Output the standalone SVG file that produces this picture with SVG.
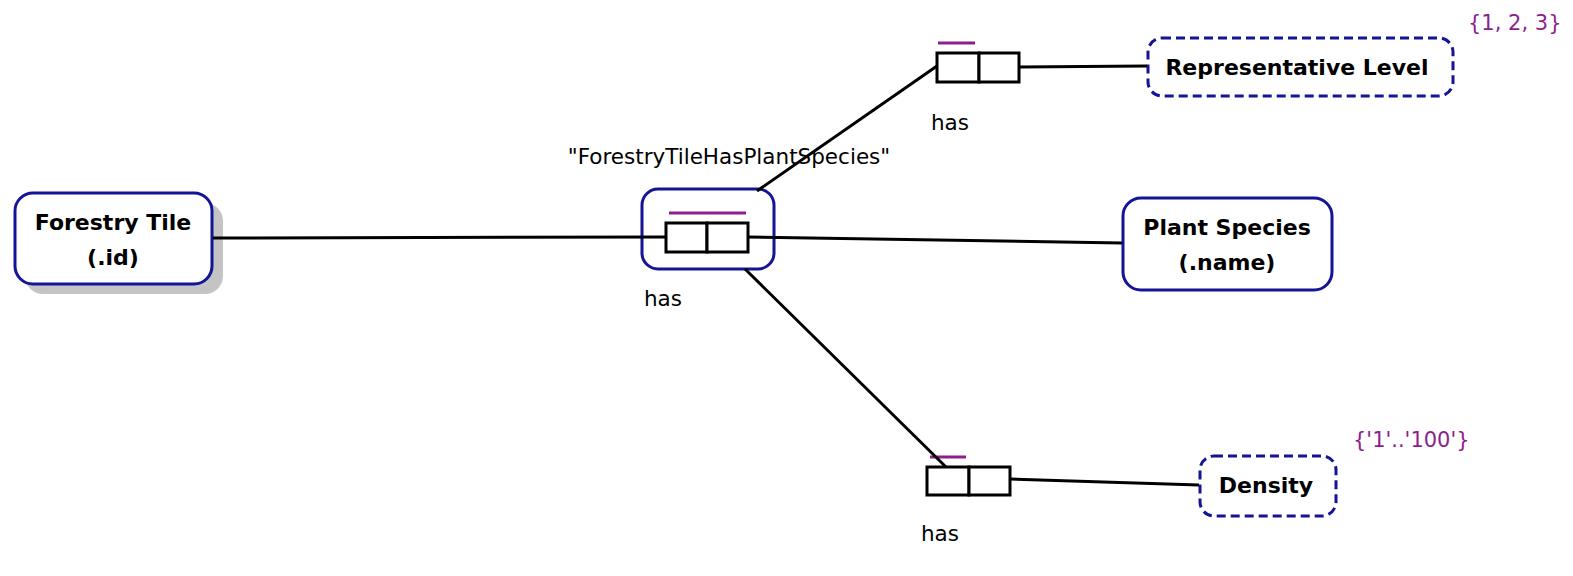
<svg xmlns="http://www.w3.org/2000/svg" width="1573" height="576" viewBox="0 0 1573 576">
<style>
.ent{fill:#fff;stroke:#141496;stroke-width:3}
.val{fill:#fff;stroke:#141496;stroke-width:3;stroke-dasharray:9 5}
.role{fill:#fff;stroke:#000;stroke-width:3}
.uc{stroke:#8e1e8e;stroke-width:3}
.ln{stroke:#000;stroke-width:3;fill:none}
.bt{font-family:"DejaVu Sans",Verdana,sans-serif;font-weight:bold;font-size:22px;fill:#000;text-anchor:middle}
.nt{font-family:"DejaVu Sans",Verdana,sans-serif;font-size:21.5px;fill:#000;text-anchor:middle}
.pt{font-family:"DejaVu Sans",Verdana,sans-serif;font-size:21px;fill:#8e1e8e}
</style>
<g id="forestry-tile">
<rect x="25" y="203" width="198" height="91" rx="18" fill="#c4c4c4"/>
<rect class="ent" x="15" y="193" width="197" height="91" rx="18"/>
<text class="bt" x="113" y="230">Forestry Tile</text>
<text class="bt" x="113" y="265">(.id)</text>
</g>
<g id="forestry-tile-has-plant-species">
<rect x="642" y="189" width="132" height="80" rx="16" fill="#fff" stroke="#141496" stroke-width="3"/>
<rect class="role" x="666" y="223" width="41" height="29"/>
<rect class="role" x="707" y="223" width="41" height="29"/>
<line class="uc" x1="669" y1="213" x2="746" y2="213"/>
<text class="nt" x="729" y="164">"ForestryTileHasPlantSpecies"</text>
<text class="nt" x="663" y="306">has</text>
</g>
<g id="plant-species">
<rect class="ent" x="1123" y="198" width="209" height="92" rx="18"/>
<text class="bt" x="1227" y="235">Plant Species</text>
<text class="bt" x="1227" y="270">(.name)</text>
</g>
<g id="role-top">
<rect class="role" x="937" y="53" width="42" height="29"/>
<rect class="role" x="979" y="53" width="40" height="29"/>
<line class="uc" x1="938" y1="43" x2="975" y2="43"/>
<text class="nt" x="950" y="130">has</text>
</g>
<g id="representative-level">
<rect class="val" x="1148" y="38" width="305" height="58" rx="14"/>
<text class="bt" x="1297" y="75">Representative Level</text>
<text class="pt" x="1468" y="30">{1, 2, 3}</text>
</g>
<g id="role-bottom">
<rect class="role" x="927" y="467" width="42" height="28"/>
<rect class="role" x="969" y="467" width="41" height="28"/>
<line class="uc" x1="930" y1="457" x2="966" y2="457"/>
<text class="nt" x="940" y="541">has</text>
</g>
<g id="density">
<rect class="val" x="1200" y="456" width="136" height="60" rx="14"/>
<text class="bt" x="1266" y="493">Density</text>
<text class="pt" x="1353" y="447">{'1'..'100'}</text>
</g>
<g id="connectors">
<line class="ln" x1="213" y1="238" x2="666" y2="237"/>
<line class="ln" x1="748" y1="237" x2="1122" y2="243"/>
<line class="ln" x1="757" y1="191" x2="937" y2="66"/>
<line class="ln" x1="1019" y1="67" x2="1147" y2="66"/>
<line class="ln" x1="745" y1="269" x2="946" y2="467"/>
<line class="ln" x1="1010" y1="479" x2="1199" y2="485"/>
</g>
</svg>
